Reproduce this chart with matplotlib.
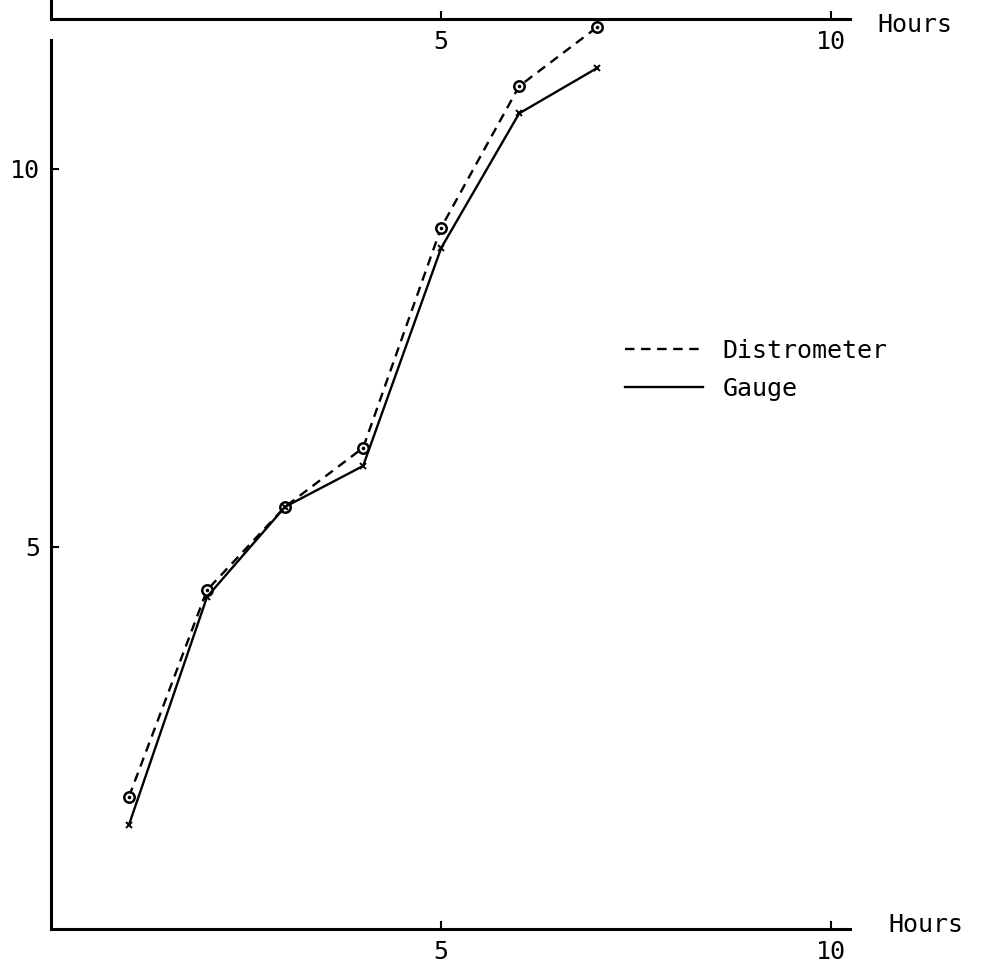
"""
Distrometer vs gauge: cumulative rainfall against time (hours).
Recreation of a scanned two-panel figure; only the foot of the upper
panel is visible at the top of the page.
"""

import matplotlib.pyplot as plt
from matplotlib.lines import Line2D

# data
hours = [1, 2, 3, 4, 5, 6, 7]
distrometer = [1.70, 4.43, 5.53, 6.31, 9.22, 11.09, 11.87]
gauge = [1.33, 4.34, 5.53, 6.07, 8.95, 10.73, 11.33]

x_ticks = [5, 10]
y_ticks = [5, 10]
x_label = "Hours"
legend_labels = ["Distrometer", "Gauge"]

FONT = "DejaVu Sans Mono"
FS = 18


def style_axis(ax):
    # only the left and bottom lines, ticks pointing into the plot
    for side in ("top", "right"):
        ax.spines[side].set_visible(False)
    for side in ("left", "bottom"):
        ax.spines[side].set_linewidth(2.2)
    ax.tick_params(direction="in", length=5.5, width=1.5, labelsize=FS, pad=8)
    for lab in ax.get_xticklabels() + ax.get_yticklabels():
        lab.set_fontfamily(FONT)
    ax.patch.set_visible(False)


def main():
    fig = plt.figure(figsize=(9.81, 9.63), dpi=100)

    W, H = 981, 963
    left, right = 51 / W, 850 / W
    xmax = 10.24

    # lower panel
    bottom, top = 1 - 929 / H, 1 - 40 / H
    ax = fig.add_axes([left, bottom, right - left, top - bottom])
    ax.set_xlim(0, xmax)
    ax.set_ylim(-0.05, 11.7)
    ax.set_xticks(x_ticks)
    ax.set_yticks(y_ticks)
    style_axis(ax)

    ax.plot(hours, distrometer, color="black", lw=1.7, ls=(0, (4, 2.8)),
            marker="o", ms=7.5, mfc="white", mec="black", mew=1.8, clip_on=False)
    ax.plot(hours, distrometer, ls="none", marker="o", ms=1.6, color="black",
            clip_on=False)
    ax.plot(hours, gauge, color="black", lw=1.7, marker="x", ms=4.5, mew=1.4,
            clip_on=False)

    ax.text(1 + (888 - 850) / (850 - 51), 0.005, x_label, transform=ax.transAxes,
            fontsize=FS, fontfamily=FONT, va="center", ha="left")

    # legend without markers, like the original
    handles = [
        Line2D([], [], color="black", lw=1.7, ls=(0, (4, 2.8))),
        Line2D([], [], color="black", lw=1.7),
    ]
    ax.legend(handles, legend_labels, loc="center left",
              bbox_to_anchor=(625 / W, 1 - 370 / H), bbox_transform=fig.transFigure,
              frameon=False, borderpad=0, borderaxespad=0, handlelength=3.1,
              handletextpad=0.8, labelspacing=0.55,
              prop={"family": FONT, "size": FS})

    # upper panel (only its x axis shows), drawn last so its labels sit on top
    ax_top = fig.add_axes([left, 1 - 19 / H, right - left, 19 / H])
    ax_top.set_xlim(0, xmax)
    ax_top.set_xticks(x_ticks)
    ax_top.set_yticks([])
    style_axis(ax_top)
    ax_top.text(1 + (872 - 845) / (850 - 51), -0.3, x_label,
                transform=ax_top.transAxes, fontsize=FS, fontfamily=FONT,
                va="center", ha="left")

    fig.savefig("out.png", dpi=100)


if __name__ == "__main__":
    main()
